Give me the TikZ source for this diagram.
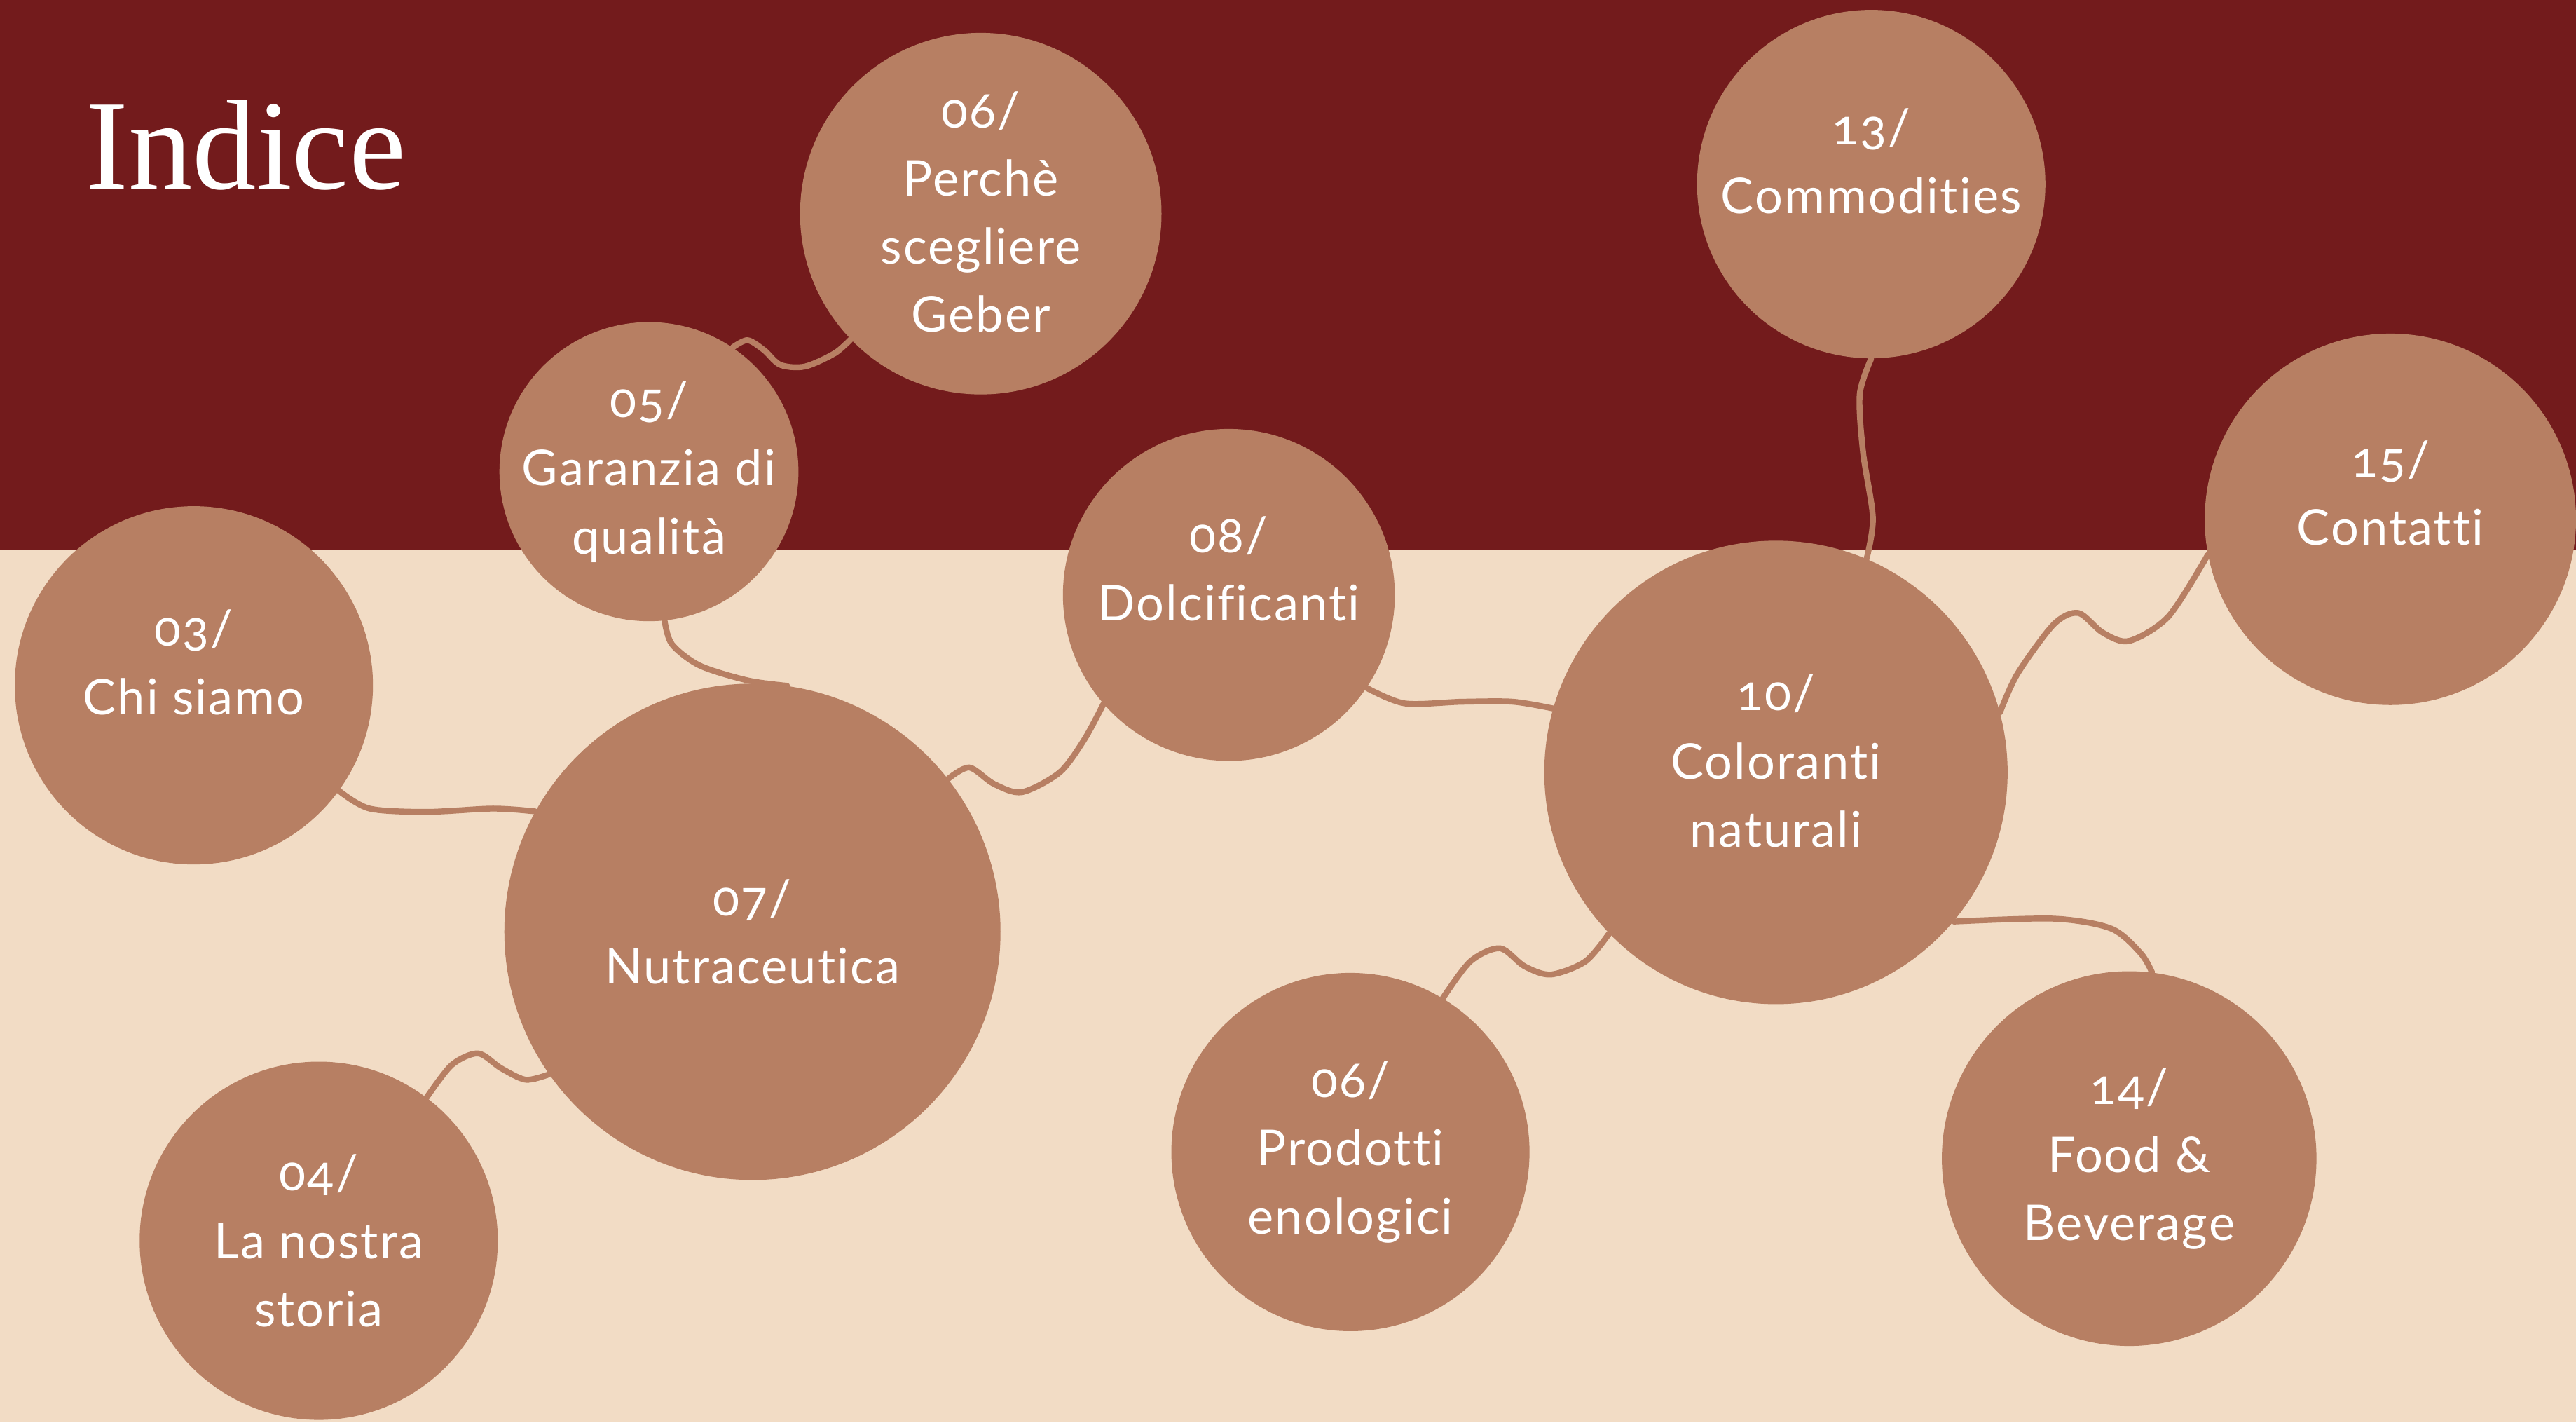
\documentclass[tikz,border=0pt]{standalone}
\usepackage{fontspec}
\setmainfont{Lato}[Numbers=OldStyle,Ligatures=NoCommon,LetterSpace=3]
\newfontfamily\titlefont{Liberation Serif}
\definecolor{darkred}{HTML}{731B1C}
\definecolor{beige}{HTML}{F2DCC5}
\definecolor{bubble}{HTML}{B77F63}
\begin{document}
\begin{tikzpicture}[x=1pt,y=-1pt,
  bub/.style={circle,fill=bubble,draw=none,inner sep=0pt,minimum size=#1},
  lbl/.style={text=white,align=center,font=\fontsize{30}{41.5}\selectfont,inner sep=0pt},
  conn/.style={draw=bubble,line width=3.6pt,line cap=round,line join=round}]
\useasboundingbox (0,0) rectangle (1568,865.5);
\fill[beige] (0,0) rectangle (1568,865.5);
\fill[darkred] (0,0) rectangle (1568,335);
\node[anchor=base west,text=white,font=\titlefont\fontsize{78}{80}\selectfont,inner sep=0pt] (title) at (52,115) {Indice};
% circles
\node[bub=220pt] (c06p) at (597,130) {};
\node[bub=182pt] (c05) at (395,287) {};
\node[bub=218pt] (c03) at (118,417) {};
\node[bub=302pt] (c07) at (458,567) {};
\node[bub=218pt] (c04) at (194,755) {};
\node[bub=202pt] (c08) at (748,362) {};
\node[bub=212pt] (c13) at (1139,112) {};
\node[bub=226pt] (c15) at (1455,316) {};
\node[bub=282pt] (c10) at (1081,470) {};
\node[bub=218pt] (c06r) at (822,701) {};
\node[bub=228pt] (c14) at (1296,705) {};
% connectors
\draw[conn] plot[smooth] coordinates {(c05.56) (455,207) (465,213) (475,222) (490,223) (508,215) (c06p.224)};
\draw[conn] plot[smooth] coordinates {(c05.276) (409,392) (426,405) (455,414) (c07.82)};
\draw[conn] plot[smooth] coordinates {(c03.-36) (225,492) (260,494) (300,492) (c07.151)};
\draw[conn] plot[smooth] coordinates {(c07.38) (590,467) (605,477) (622,482) (645,470) (660,450) (c08.221)};
\draw[conn] plot[smooth] coordinates {(c04.53) (275,648) (291,641) (305,650) (320,657) (c07.215)};
\draw[conn] plot[smooth] coordinates {(c08.-34) (855,428) (890,427) (921,427) (c10.164)};
\draw[conn] plot[smooth] coordinates {(c13.270) (1132,240) (1134,275) (1140,315) (c10.67)};
\draw[conn] plot[smooth] coordinates {(c10.15) (1228,410) (1250,380) (1265,373) (1280,385) (1296,390) (1320,375) (c15.191)};
\draw[conn] plot[smooth] coordinates {(c10.224) (965,585) (944,593) (928,588) (913,577) (895,585) (c06r.59)};
\draw[conn] plot[smooth] coordinates {(c10.-40) (1250,559) (1285,565) (1303,580) (c14.83)};
% labels
\node[lbl] (t06p) at (597,129) {06/\\Perchè\\scegliere\\Geber};
\node[lbl] (t05) at (395,287) {05/\\Garanzia di\\qualità};
\node[lbl] (t03) at (118,403) {03/\\Chi siamo};
\node[lbl] (t07) at (458,567) {07/\\Nutraceutica};
\node[lbl] (t04) at (194,755) {04/\\La nostra\\storia};
\node[lbl] (t08) at (748,346) {08/\\Dolcificanti};
\node[lbl] (t13) at (1139,98) {13/\\Commodities};
\node[lbl] (t15) at (1455,300) {15/\\Contatti};
\node[lbl] (t10) at (1081,463) {10/\\Coloranti\\naturali};
\node[lbl] (t06r) at (822,701) {06/\\Prodotti\\enologici};
\node[lbl] (t14) at (1296,705) {14/\\Food \&\\Beverage};
\end{tikzpicture}
\end{document}
